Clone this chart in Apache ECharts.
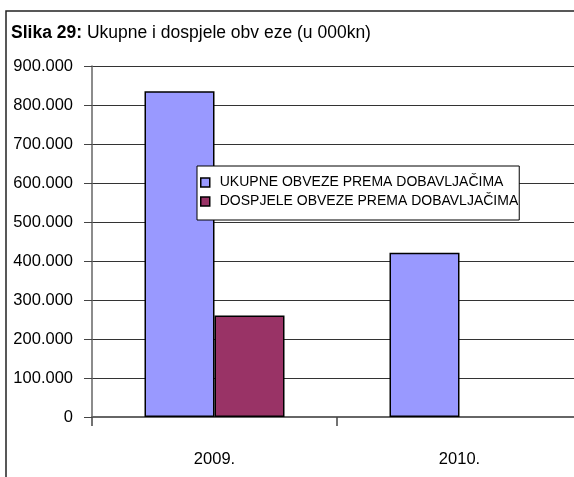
<!DOCTYPE html>
<html>
<head>
<meta charset="utf-8">
<script src="https://cdn.jsdelivr.net/npm/echarts@6/dist/echarts.min.js"></script>
<style>
    html, body { margin: 0; padding: 0; background: #fff; }
    #chart { width: 574px; height: 477px; }
</style>
</head>
<body>
<div id="chart"></div>
<script>
// values in 000 kn
const categories = ['2009.', '2010.']
const ukupne = [835000, 421000]
const dospjele = [260000, null]
const seriesNames = ['UKUPNE OBVEZE PREMA DOBAVLJAČIMA', 'DOSPJELE OBVEZE PREMA DOBAVLJAČIMA']
const yTicks = [0, 100000, 200000, 300000, 400000, 500000, 600000, 700000, 800000, 900000]

const font = '"Liberation Sans", Arial, sans-serif'

function fmt(v) {
    if (v === 0) {
        return '0'
    }
    return (v / 1000) + '.000'
}

const chart = echarts.init(document.getElementById('chart'))
chart.setOption({
    animation: false,
    title: {
        text: '{b|Slika 29:} Ukupne i dospjele obv eze (u 000kn)',
        left: 11,
        top: 24,
        padding: 0,
        textStyle: {
            fontFamily: font,
            fontSize: 17.5,
            fontWeight: 'normal',
            color: '#000',
            rich: {
                b: {
                    fontFamily: font,
                    fontSize: 17.5,
                    fontWeight: 'bold',
                    color: '#000',
                },
            },
        },
    },
    graphic: [{
        type: 'rect',
        shape: { x: 6, y: 11, width: 620, height: 520 },
        style: { fill: null, stroke: '#222', lineWidth: 1.5 },
        z: 100,
    }],
    legend: {
        orient: 'vertical',
        left: 197,
        top: 166,
        padding: [7, 1, 9, 3],
        itemGap: 0,
        itemWidth: 9,
        itemHeight: 9,
        icon: 'rect',
        backgroundColor: '#fff',
        borderColor: '#000',
        borderWidth: 1,
        borderRadius: 0,
        textStyle: {
            fontFamily: font,
            fontSize: 14,
            lineHeight: 19,
            color: '#000',
            padding: [0, 0, 0, 5],
        },
        itemStyle: {
            borderColor: '#000',
            borderWidth: 1.5,
        },
        data: seriesNames,
        z: 10,
    },
    grid: {
        left: 92,
        top: 66,
        width: 490,
        height: 351,
        containLabel: false,
        outerBoundsMode: 'none',
    },
    xAxis: {
        type: 'category',
        data: categories,
        axisLine: {
            lineStyle: { color: '#666', width: 2 },
        },
        axisTick: {
            show: true,
            length: 9,
            lineStyle: { color: '#444', width: 1.5 },
        },
        axisLabel: {
            margin: 34,
            fontFamily: font,
            fontSize: 16.5,
            color: '#000',
        },
    },
    yAxis: {
        type: 'value',
        min: yTicks[0],
        max: yTicks[yTicks.length - 1],
        interval: yTicks[1] - yTicks[0],
        axisLine: {
            show: true,
            lineStyle: { color: '#666', width: 1.5 },
        },
        axisTick: {
            show: true,
            length: 8,
            lineStyle: { color: '#444', width: 1 },
        },
        splitLine: {
            lineStyle: { color: '#333', width: 1 },
        },
        axisLabel: {
            margin: 19,
            fontFamily: font,
            fontSize: 16.5,
            color: '#000',
            formatter: fmt,
        },
    },
    series: [{
        name: seriesNames[0],
        type: 'bar',
        data: ukupne,
        barWidth: 70,
        barGap: '0%',
        itemStyle: {
            color: '#9999ff',
            borderColor: '#000',
            borderWidth: 1.5,
        },
    },
    {
        name: seriesNames[1],
        type: 'bar',
        data: dospjele,
        barWidth: 70,
        barGap: '0%',
        itemStyle: {
            color: '#993366',
            borderColor: '#000',
            borderWidth: 1.5,
        },
    }],
})
</script>
</body>
</html>
